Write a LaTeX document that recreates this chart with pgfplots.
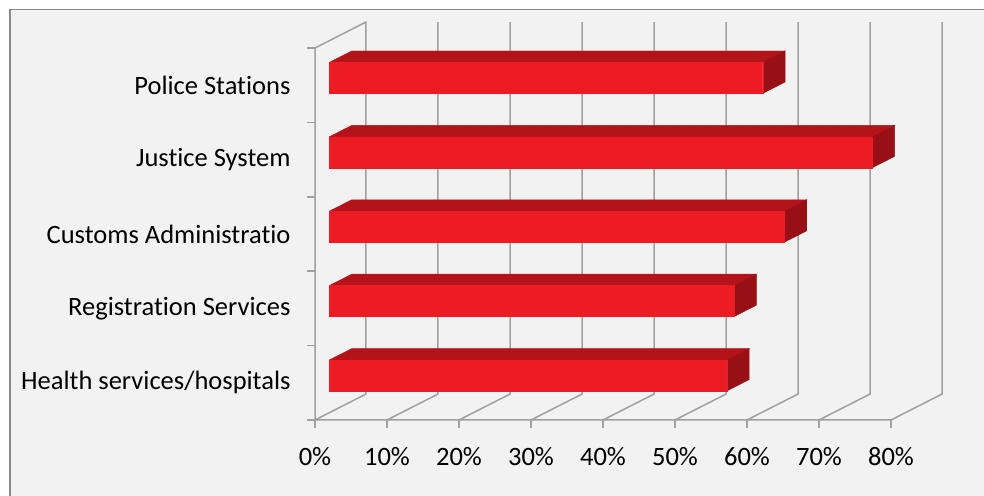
\documentclass[border=0pt]{standalone}
\usepackage{pgfplots}
\pgfplotsset{compat=1.18}
\usepackage{pgfplotstable}
\usepackage{fontspec}
\setmainfont{Carlito}[Ligatures=NoCommon]
\definecolor{bgc}{RGB}{242,242,242}
\definecolor{bordc}{RGB}{134,134,134}
\definecolor{gridc}{RGB}{160,160,160}
\definecolor{frontc}{RGB}{237,28,36}
\definecolor{topc}{RGB}{178,20,26}
\definecolor{sidec}{RGB}{152,16,22}

\pgfplotstableread{
c v
0.5 55.2
1.5 56.2
2.5 63.2
3.5 75.4
4.5 60.2
}\bardata

\begin{document}
\begin{tikzpicture}
\path[use as bounding box, fill=white] (0,0) rectangle (984bp,496bp);
\fill[bgc] (10bp,0) rectangle (984bp,486.7bp);
\draw[bordc, line width=1.5bp] (10bp,0) -- (10bp,486.7bp) -- (984bp,486.7bp);
\begin{axis}[
  anchor=south west, at={(315bp,76bp)},
  x=7.2bp, y=74.4bp,
  xmin=0, xmax=87.083, ymin=0, ymax=5.349,
  clip=false,
  axis line style={draw=none},
  xtick={0,10,...,80},
  xticklabels={0\%,10\%,20\%,30\%,40\%,50\%,60\%,70\%,80\%},
  ytick={0,1,2,3,4,5}, yticklabels={},
  extra y ticks={0.5,1.5,2.5,3.5,4.5},
  extra y tick labels={Health services/hospitals,Registration Services,Customs Administratio,Justice System,Police Stations},
  extra y tick style={major tick length=0pt},
  xtick pos=left, ytick pos=left,
  tick align=outside,
  major tick length=8bp,
  tick style={gridc, line width=1.5bp},
  tick label style={font=\fontsize{26.5bp}{30bp}\selectfont, text=black},
  xticklabel style={yshift=-16bp},
  yticklabel style={xshift=-21bp},
]
\addplot[gridc, line width=1.5bp, unbounded coords=jump, forget plot] coordinates {
 (80,0) (0,0) (0,5) (7.083,5.349) (7.083,0.349) (0,0)
 (nan,nan) (10,0) (17.083,0.349) (17.083,5.349)
 (nan,nan) (20,0) (27.083,0.349) (27.083,5.349)
 (nan,nan) (30,0) (37.083,0.349) (37.083,5.349)
 (nan,nan) (40,0) (47.083,0.349) (47.083,5.349)
 (nan,nan) (50,0) (57.083,0.349) (57.083,5.349)
 (nan,nan) (60,0) (67.083,0.349) (67.083,5.349)
 (nan,nan) (70,0) (77.083,0.349) (77.083,5.349)
 (nan,nan) (80,0) (87.083,0.349) (87.083,5.349)
};
\pgfplotsinvokeforeach{0,...,4}{
 \pgfplotstablegetelem{#1}{c}\of\bardata \let\cc\pgfplotsretval
 \pgfplotstablegetelem{#1}{v}\of\bardata \let\vv\pgfplotsretval
 \pgfmathsetmacro\xa{\vv+1.983}
 \pgfmathsetmacro\xb{\vv+5.100}
 \pgfmathsetmacro\yfb{\cc-0.1108}
 \pgfmathsetmacro\yft{\cc+0.3062}
 \pgfmathsetmacro\ybt{\cc+0.4598}
 \pgfmathsetmacro\ybb{\cc+0.0428}
 \edef\tmp{%
  \noexpand\addplot[fill=topc, draw=topc, line width=0.4bp, forget plot] coordinates {(1.983,\yft) (\xa,\yft) (\xb,\ybt) (5.100,\ybt) (1.983,\yft)};
  \noexpand\addplot[fill=sidec, draw=sidec, line width=0.4bp, forget plot] coordinates {(\xa,\yfb) (\xb,\ybb) (\xb,\ybt) (\xa,\yft) (\xa,\yfb)};
  \noexpand\addplot[fill=frontc, draw=frontc, line width=0.4bp, forget plot] coordinates {(1.983,\yfb) (\xa,\yfb) (\xa,\yft) (1.983,\yft) (1.983,\yfb)};
 }\tmp
}
\end{axis}
\end{tikzpicture}
\end{document}
